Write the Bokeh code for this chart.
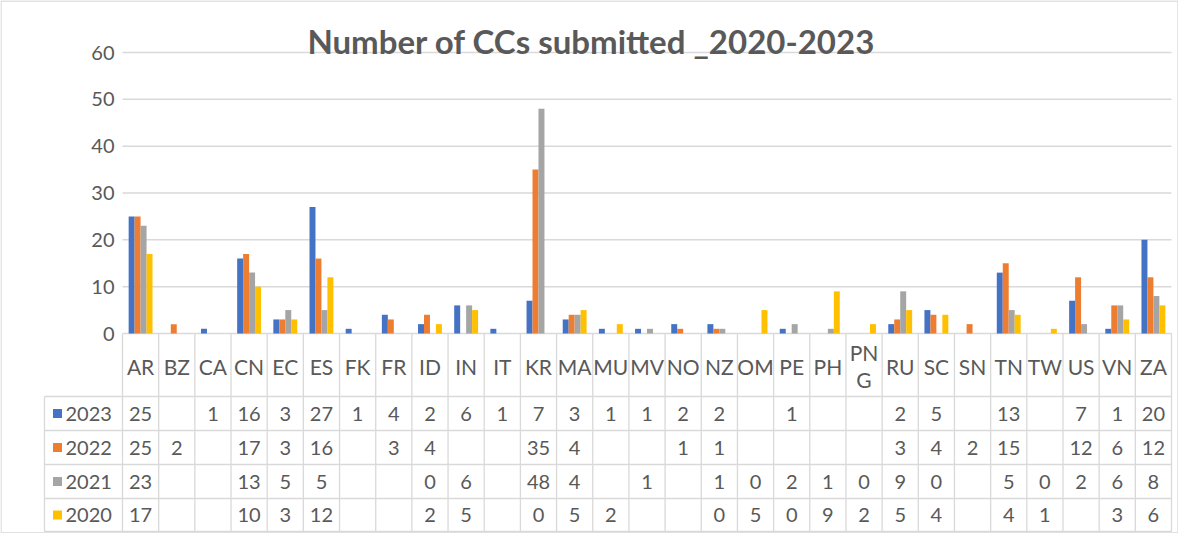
from bokeh.plotting import figure
from bokeh.models import ColumnDataSource, Range1d, LinearAxis, FixedTicker
from bokeh.core.properties import value
from bokeh.embed import file_html
from bokeh.resources import INLINE

categories = ["AR", "BZ", "CA", "CN", "EC", "ES", "FK", "FR", "ID", "IN", "IT", "KR", "MA", "MU",
              "MV", "NO", "NZ", "OM", "PE", "PH", "PNG", "RU", "SC", "SN", "TN", "TW", "US", "VN", "ZA"]
years = ["2023", "2022", "2021", "2020"]
v2023 = [25, None, 1, 16, 3, 27, 1, 4, 2, 6, 1, 7, 3, 1, 1, 2, 2, None, 1, None, None, 2, 5, None, 13, None, 7, 1, 20]
v2022 = [25, 2, None, 17, 3, 16, None, 3, 4, None, None, 35, 4, None, None, 1, 1, None, None, None, None, 3, 4, 2, 15, None, 12, 6, 12]
v2021 = [23, None, None, 13, 5, 5, None, None, 0, 6, None, 48, 4, None, 1, None, 1, 0, 2, 1, 0, 9, 0, None, 5, 0, 2, 6, 8]
v2020 = [17, None, None, 10, 3, 12, None, None, 2, 5, None, 0, 5, 2, None, None, 0, 5, 0, 9, 2, 5, 4, None, 4, 1, None, 3, 6]
y_ticks = [0, 10, 20, 30, 40, 50, 60]
title = "Number of CCs submitted _2020-2023"

series = [v2023, v2022, v2021, v2020]
colors = ["#4472C4", "#ED7D31", "#A5A5A5", "#FFC000"]
TXT = "#595959"
LINE = "#D9D9D9"
FONT = "Lato"

# ---- layout (canvas pixels) ----
CW, CH = 1178, 533
X0, X1 = 122, 1171          # canvas x of category -0.5 and 28.5
Y60, Y0 = 52, 333           # canvas y of value 60 and 0
n = len(categories)
ux = (X1 - X0) / n
uy = (Y0 - Y60) / 60.0
x_range = Range1d(-0.5 - X0 / ux, n - 0.5 + (CW - X1) / ux)
y_range = Range1d(-(CH - Y0) / uy, 60 + Y60 / uy)

p = figure(width=CW, height=CH, x_range=x_range, y_range=y_range,
           output_backend="svg", toolbar_location=None,
           x_axis_type=None, y_axis_type=None, min_border=0,
           outline_line_color=None, background_fill_color="white",
           border_fill_color="white")
p.xgrid.visible = False
p.ygrid.visible = False
p.extra_x_ranges = {"px": Range1d(0, CW)}
p.extra_y_ranges = {"px": Range1d(CH, 0)}

# outer chart border
p.line(x=[0.5, 0.5, CW - 0.5, CW - 0.5, 0.5], y=[CH - 0.5, 0.5, 0.5, CH - 0.5, CH - 0.5],
       x_range_name="px", y_range_name="px", line_color=LINE, line_width=1.3)

# gridlines
p.segment(x0=[-0.5] * len(y_ticks), x1=[n - 0.5] * len(y_ticks), y0=y_ticks, y1=y_ticks,
          line_color=LINE, line_width=1.5)

# y axis labels
yaxis = LinearAxis(ticker=FixedTicker(ticks=y_ticks), fixed_location=-0.5,
                   axis_line_color=None, major_tick_line_color=None, minor_tick_line_color=None,
                   major_tick_in=0, major_tick_out=0, major_label_standoff=8,
                   major_label_text_font=FONT, major_label_text_font_size="20px",
                   major_label_text_color=TXT)
p.add_layout(yaxis, "left")

# bars
bw = 0.165
offsets = [-1.5 * bw, -0.5 * bw, 0.5 * bw, 1.5 * bw]
for vals, col, off in zip(series, colors, offsets):
    xs = [i + off for i in range(n)]
    tops = [float("nan") if v is None else v for v in vals]
    src = ColumnDataSource(dict(x=xs, top=tops))
    p.vbar(x="x", top="top", bottom=0, width=bw, source=src,
           fill_color=col, line_color=None)

# data table
row_lines = [396, 430, 464, 498, 531]
LEG_L = 44
bx = [i - 0.5 for i in range(n + 1)]
p.segment(x0=bx, x1=bx, y0=[Y0] * len(bx), y1=[row_lines[-1]] * len(bx),
          y_range_name="px", line_color=LINE, line_width=1.3)
p.segment(x0=[LEG_L], x1=[LEG_L], y0=[row_lines[0]], y1=[row_lines[-1]],
          x_range_name="px", y_range_name="px", line_color=LINE, line_width=1.3)
p.segment(x0=[LEG_L] * len(row_lines), x1=[X1] * len(row_lines), y0=row_lines, y1=row_lines,
          x_range_name="px", y_range_name="px", line_color=LINE, line_width=1.3)

# category labels in header row
labels = [c if len(c) <= 2 else c[:2] + "\n" + c[2:] for c in categories]
p.text(x=list(range(n)), y=[(Y0 + row_lines[0]) / 2 + 1] * n, text=labels,
       y_range_name="px", text_align="center", text_baseline="middle",
       text_font=value(FONT), text_font_size="21px", text_color=TXT, text_line_height=1.05)

# rows
for r, (yr, vals, col) in enumerate(zip(years, series, colors)):
    yc = (row_lines[r] + row_lines[r + 1]) / 2
    p.scatter(x=[LEG_L + 13], y=[yc], marker="square", size=9, fill_color=col, line_color=None,
              x_range_name="px", y_range_name="px")
    p.text(x=[LEG_L + 21], y=[yc], text=[yr], x_range_name="px", y_range_name="px",
           text_align="left", text_baseline="middle", text_font=value(FONT),
           text_font_size="20px", text_color=TXT)
    xs = [i for i, v in enumerate(vals) if v is not None]
    ts = [str(v) for v in vals if v is not None]
    p.text(x=xs, y=[yc] * len(xs), text=ts, y_range_name="px",
           text_align="center", text_baseline="middle", text_font=value(FONT),
           text_font_size="20px", text_color=TXT)

# title
p.text(x=[591], y=[40], text=[title], x_range_name="px", y_range_name="px",
       text_align="center", text_baseline="middle", text_font=value(FONT),
       text_font_style="bold", text_font_size="33px", text_color=TXT)

open("out.html", "w").write(file_html(p, INLINE))
